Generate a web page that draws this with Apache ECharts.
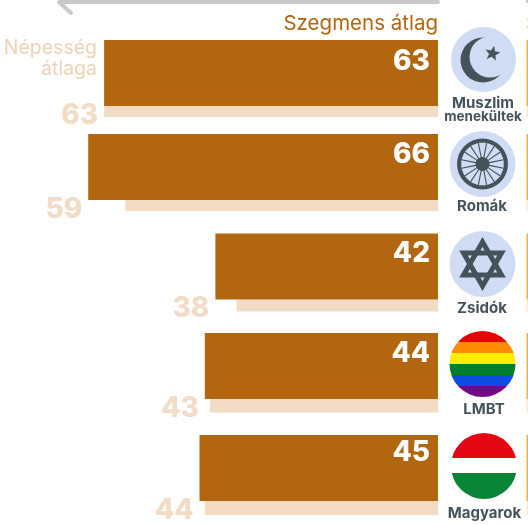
<!DOCTYPE html>
<html>
<head>
<meta charset="utf-8">
<style>
  html, body { margin: 0; padding: 0; background: #fff; }
  #chart { width: 528px; height: 525px; }
</style>
<script src="https://cdn.jsdelivr.net/npm/echarts@6/dist/echarts.min.js"></script>
</head>
<body>
<div id="chart"></div>
<script>
  var groups = ['Muszlim menekültek', 'Romák', 'Zsidók', 'LMBT', 'Magyarok'];
  var segmentAvg = [63, 66, 42, 44, 45];
  var populationAvg = [63, 59, 38, 43, 44];

  // layout of the rows, the rows are not evenly spaced in the original
  var rowTops = [40, 134, 233.5, 333, 435];
  var paleHeights = [11, 11, 12, 13.5, 14];
  var whiteLabelDrop = [2, 1, 0, 1, -2];
  var darkHeight = 66;
  var iconCenters = [[483.5, 59.5], [482.5, 164], [482.5, 264], [482.5, 364], [484, 466]];

  var DARK = '#b2660f', PALE = '#f2dcc5', INK = '#44535a', ICON_BG = '#cfdcf3';
  var FONT = 'Inter';

  var grids = [], xAxes = [], yAxes = [], series = [];

  function addGrid(top, height, name) {
    grids.push({left: 14, width: 424, top: top, height: height});
    xAxes.push({type: 'value', min: 0, max: 80, inverse: true, show: false, gridIndex: grids.length - 1});
    yAxes.push({type: 'category', data: [name], show: false, gridIndex: grids.length - 1});
    return grids.length - 1;
  }

  groups.forEach(function (name, i) {
    var top = rowTops[i], h = paleHeights[i];

    var paleGrid = addGrid(top + darkHeight, h, name);
    series.push({
      type: 'bar', silent: true, xAxisIndex: paleGrid, yAxisIndex: paleGrid,
      barWidth: '100%', itemStyle: {color: PALE},
      data: [populationAvg[i]]
    });
    // see-through bar as wide as the dark one, it only carries the pale number
    series.push({
      type: 'bar', silent: true, xAxisIndex: paleGrid, yAxisIndex: paleGrid,
      barWidth: '100%', barGap: '-100%', itemStyle: {color: 'transparent'},
      label: {
        show: true, position: 'left', distance: 6,
        offset: [0, (21 - h) / 2 - 1],
        formatter: String(populationAvg[i]),
        color: PALE, fontFamily: FONT, fontWeight: 800, fontSize: 28
      },
      data: [segmentAvg[i]]
    });

    var darkGrid = addGrid(top, darkHeight, name);
    series.push({
      type: 'bar', silent: true, xAxisIndex: darkGrid, yAxisIndex: darkGrid,
      barWidth: '100%', itemStyle: {color: DARK},
      label: {
        show: true, position: 'insideTopRight', distance: 6, offset: [-2, whiteLabelDrop[i]],
        color: '#fff', fontFamily: FONT, fontWeight: 800, fontSize: 28
      },
      data: [segmentAvg[i]]
    });
  });

  function circle(c, r, fill) {
    return {type: 'circle', shape: {cx: c[0], cy: c[1], r: r}, style: {fill: fill}};
  }
  function label(text, x, y, size, color, weight, align) {
    return {
      type: 'text', x: x, y: y,
      style: {
        text: text, fill: color, fontFamily: FONT, fontSize: size,
        fontWeight: weight || 'normal', align: align || 'center', verticalAlign: 'middle'
      }
    };
  }
  function stripes(c, r, stops) {
    return circle(c, r, new echarts.graphic.LinearGradient(0, 0, 0, 1, stops));
  }
  function hardStops(list) {
    var out = [];
    list.forEach(function (s) {
      out.push({offset: s[0], color: s[2]}, {offset: s[1], color: s[2]});
    });
    return out;
  }

  var graphics = [];

  // grey arrow along the top
  graphics.push({
    type: 'polyline',
    shape: {points: [[71, 13], [59, 2], [438, 2]]},
    style: {stroke: '#c9c9c9', lineWidth: 4, fill: null, lineCap: 'round', lineJoin: 'round'}
  });
  graphics.push({type: 'rect', shape: {x: 526, y: 0, width: 2, height: 3}, style: {fill: '#c9c9c9'}});

  graphics.push(label('Szegmens átlag', 438, 24, 20.5, DARK, 400, 'right'));
  graphics.push(label('Népesség', 97, 48, 19.5, '#ecd3b8', 400, 'right'));
  graphics.push(label('átlaga', 97, 69, 19.5, '#ecd3b8', 400, 'right'));
  graphics.push(label('Sz', 526, 24, 20.5, '#f5b335', 400, 'left'));

  // edge of the next panel, cut off by the picture
  rowTops.forEach(function (top, i) {
    graphics.push({type: 'rect', shape: {x: 526.5, y: top, width: 1.5, height: darkHeight}, style: {fill: '#f5b335'}});
    graphics.push({type: 'rect', shape: {x: 526.5, y: top + darkHeight, width: 1.5, height: paleHeights[i]}, style: {fill: '#fbe9c9'}});
  });

  // crescent and star
  graphics.push(circle(iconCenters[0], 32.5, ICON_BG));
  graphics.push(circle([483, 60], 22.5, INK));
  graphics.push(circle([490, 57], 20.5, ICON_BG));
  var starPts = [];
  for (var k = 0; k < 10; k++) {
    var a = -Math.PI / 2 + 0.2 + k * Math.PI / 5;
    var rr = k % 2 ? 3.4 : 8;
    starPts.push([492.5 + rr * Math.cos(a), 53.5 + rr * Math.sin(a)]);
  }
  graphics.push({type: 'polygon', shape: {points: starPts}, style: {fill: INK}});

  // wheel
  var wc = iconCenters[1];
  graphics.push(circle(wc, 33, ICON_BG));
  graphics.push(circle(wc, 25.5, INK));
  for (var s = 0; s < 16; s++) {
    var ang = s * Math.PI / 8, sp = 0.12, sp2 = 0.17;
    graphics.push({
      type: 'polygon',
      shape: {points: [
        [wc[0] + 7 * Math.cos(ang - sp), wc[1] + 7 * Math.sin(ang - sp)],
        [wc[0] + 21.5 * Math.cos(ang - sp2), wc[1] + 21.5 * Math.sin(ang - sp2)],
        [wc[0] + 21.5 * Math.cos(ang + sp2), wc[1] + 21.5 * Math.sin(ang + sp2)],
        [wc[0] + 7 * Math.cos(ang + sp), wc[1] + 7 * Math.sin(ang + sp)]
      ]},
      style: {fill: ICON_BG}
    });
  }

  // star of David
  var dc = iconCenters[2];
  graphics.push(circle(dc, 33, ICON_BG));
  [-1, 1].forEach(function (dir) {
    graphics.push({
      type: 'polygon',
      shape: {points: [
        [dc[0], dc[1] + dir * 22],
        [dc[0] + 19, dc[1] - dir * 11],
        [dc[0] - 19, dc[1] - dir * 11]
      ]},
      style: {fill: null, stroke: INK, lineWidth: 5, lineJoin: 'miter'}
    });
  });

  // rainbow and hungarian flag
  var sixth = 1 / 6;
  graphics.push(stripes(iconCenters[3], 33, hardStops([
    [0, sixth, '#e40303'], [sixth, 2 * sixth, '#ff8c00'], [2 * sixth, 3 * sixth, '#ffed00'],
    [3 * sixth, 4 * sixth, '#008026'], [4 * sixth, 5 * sixth, '#0a4de0'], [5 * sixth, 1, '#750787']
  ])));
  graphics.push(stripes(iconCenters[4], 33, hardStops([
    [0, 0.38, '#e30613'], [0.38, 0.61, '#ffffff'], [0.61, 1, '#0a8537']
  ])));

  // group names under the icons
  graphics.push(label('Muszlim', 483, 103, 15, INK, 'bold'));
  graphics.push(label('menekültek', 483, 117, 13.5, INK, 'bold'));
  graphics.push(label(groups[1], 482, 206, 15, INK, 'bold'));
  graphics.push(label(groups[2], 482, 308, 15, INK, 'bold'));
  graphics.push(label(groups[3], 484, 409, 15, INK, 'bold'));
  graphics.push(label(groups[4], 484.5, 513, 15, INK, 'bold'));

  var chart = echarts.init(document.getElementById('chart'));
  chart.setOption({
    animation: false,
    grid: grids,
    xAxis: xAxes,
    yAxis: yAxes,
    series: series,
    graphic: {elements: graphics}
  });
</script>
</body>
</html>
